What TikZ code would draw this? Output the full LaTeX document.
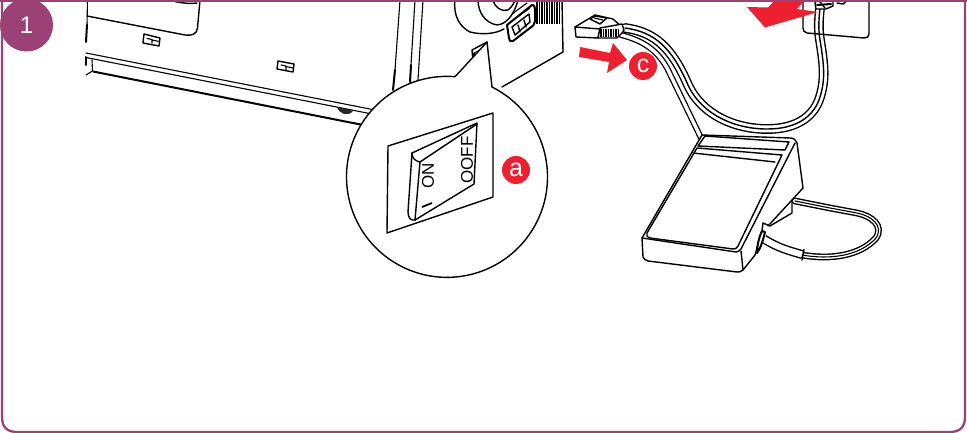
\documentclass[tikz,border=0pt]{standalone}
\usepackage{fontspec}
\setmainfont{Liberation Sans}
\definecolor{plum}{HTML}{9C4173}
\definecolor{alert}{HTML}{EE2030}
\tikzset{
 x=1pt,y=-1pt,
 ink/.style={draw=black,line width=1.4pt,line join=round,line cap=round},
 thin ink/.style={draw=black,line width=1.1pt,line join=round,line cap=round},
 heavy ink/.style={draw=black,line width=2pt,line join=round,line cap=round},
 tag/.style={circle,fill=alert,text=white,minimum size=28pt,inner sep=0pt,font=\fontsize{25}{25}\selectfont},
 labeltext/.style={rotate=90,inner sep=0pt,font=\fontsize{17}{17}\selectfont},
 cable/.style={draw=black,line width=9.8pt,line cap=round},
 cablein/.style={draw=white,line width=7pt,line cap=round},
 lead/.style={draw=black,line width=1.4pt,line cap=round},
}
\def\maincable{(625,28) .. controls (655,32) and (672,48) .. (688,85) .. controls (702,115) and (735,129) .. (767,129) .. controls (795,129) and (812,118) .. (819,100) .. controls (826,80) and (824,65) .. (820,40) .. controls (818,28) and (819,18) .. (820,8)}
\def\lowcable{(621,35) .. controls (645,41) and (660,52) .. (670,74) -- (702,140)}
\def\footcord{(802,255) .. controls (830,260) and (860,256) .. (876,238) .. controls (884,226) and (872,216) .. (857,213) -- (830,208) -- (795,201)}
\begin{document}
\begin{tikzpicture}
\useasboundingbox (0,0) rectangle (967,433);
\fill[white] (0,0) rectangle (967,433);
% machine front
\draw[thin ink] (87.5,0) -- (87,25);
\draw[heavy ink] (87,25) -- (86,42);
\draw[ink] (87,16) -- (185,35) .. controls (192,36) and (197,34) .. (197.5,28) -- (200,0);
\draw[ink] (170,0) .. controls (178,3) and (190,4) .. (197,3);
\draw[ink] (144,34) -- (160,38) -- (159,46) -- (143,43) -- cycle;
\draw[thin ink] (147,38.5) -- (152,39.5) -- (152,43) (152,40) -- (159,41.5);
\draw[ink] (278,61) -- (294,64) -- (293,72) -- (277,69) -- cycle;
\draw[thin ink] (281,65) -- (286,66) -- (286,70) (286,66.5) -- (293,68);
\draw[thin ink] (86,53) -- (375,110);
\draw[thin ink] (86,57.5) -- (372,114);
\draw[thin ink] (92,60) -- (92.5,71) -- (86,75);
\draw[heavy ink] (85.5,57) -- (85.5,65);
\draw[line width=2pt] (93,71.5) -- (363,125);
\fill[black!85] (337,107) .. controls (339,114) and (348,117) .. (353,111) -- cycle;
% machine side
\draw[thin ink] (400,0) -- (395,70);
\draw[heavy ink] (395,70) -- (393,90);
\draw[thin ink] (415,0) -- (411,65);
\draw[heavy ink] (411,65) -- (410,82);
\draw[thin ink] (423,0) -- (418,80);
% hand wheel
\draw[ink] (455,0) .. controls (453,16) and (460,27) .. (470,32) .. controls (482,35) and (495,34) .. (504,29);
\draw[ink] (478,0) .. controls (478,12) and (485,23) .. (497,25) .. controls (508,24) and (515,12) .. (518,0);
\draw[ink] (493,0) .. controls (495,8) and (502,12) .. (508,10) .. controls (512,7) and (514,3) .. (515,0);
% socket
\draw[heavy ink,fill=white] (507,25) -- (532,5) .. controls (535,5) and (535,8) .. (535,12) -- (535,21) .. controls (535,24) and (533,26) .. (530,28) -- (513,41) .. controls (510,42) and (509,40) .. (509,38) -- cycle;
\draw[ink] (512,27) -- (529,14) -- (530,22) -- (515,35) -- cycle;
\draw[ink] (518,25) -- (520,32) (524,20) -- (526,27);
\draw[thin ink] (512,14) -- (527,3) (516,18) -- (530,8);
\foreach \xx in {537,539.5,...,560} \draw[line width=1.3pt] (\xx,0) -- (\xx,24);
\draw[ink] (562,0) -- (563,52);
\draw[ink] (563,52) -- (502,87);
% rocker on body
\draw[ink] (472,50) -- (487,42) -- (487,52) -- (473,62) -- cycle;
\fill[black] (473,53) -- (487,46) -- (487,52) -- (473,62) -- cycle;
\fill[white] (475,53) -- (485,48) -- (485,50) -- (475,56) -- cycle;
% callout
\draw[ink,fill=white] (492,87) arc[start angle=-63.4,end angle=274.6,radius=100.5] -- (487,42) -- cycle;
% switch
\draw[ink] (388,146) -- (493,113) -- (493,197) -- (387,233) -- cycle;
\draw[ink] (412,153) -- (477,123) -- (474,184) -- (415,220);
\draw[ink] (412,153) .. controls (412,158) and (415,161) .. (420,162) -- (477,124);
\draw[ink] (412,153) -- (408,212) .. controls (408,218) and (411,221) .. (415,220);
\draw[ink] (420,162) -- (415,220);
\draw[line width=1.8pt] (422,207) -- (432,203);
\node[labeltext] (on) at (428,176) {ON};
\node[labeltext] (off) at (467,160) {OOFF};
\node[tag] (a) at (516,170) {a};
% cables
\draw[line width=6pt,line cap=round] \lowcable;
\draw[white,line width=3.4pt,line cap=round] \lowcable;
\draw[cable] \maincable;
\draw[cablein] \maincable;
\draw[lead] \maincable;
% plug
\draw[ink,fill=white] (575,27) -- (590,18) -- (595,15) -- (613,19) -- (622,27) -- (600,30) -- (598,38) -- (576,37) -- cycle;
\draw[ink] (575,27) -- (600,29);
\draw[ink,fill=white] (600,28) -- (622,24) -- (624,30) -- (622,33) -- (617,38) -- (598,38) -- cycle;
\foreach \xx in {601,603.5,...,620} \draw[line width=1.2pt] (\xx,29) -- (\xx,37);
\draw[ink] (590,19) -- (595,16) -- (607,18) -- (600,24) -- cycle;
\draw[thin ink] (594,18) -- (603,20);
% wall plate
\draw[ink] (803,0) -- (803,28) .. controls (803,31) and (804,32) .. (807,33) -- (864,38) .. controls (867,38) and (869,37) .. (869,34) -- (869,0);
\draw[ink,fill=white] (815,3) -- (817,0) -- (833,0) -- (833,6) -- (826,9) -- (816,9) -- cycle;
\draw[heavy ink] (817,5) -- (831,4);
\draw[ink] (820,2) -- (825,8);
\draw[ink] (837,3) -- (843,4) -- (848,0);
% big arrow
\fill[alert] (775,0) -- (805,0) -- (797,9) -- (818,12) -- (765,27.5) -- (747,7) -- (768,7.5) -- cycle;
% small arrow c
\fill[alert] (580,47) -- (610,53) -- (613,43) -- (627,60) -- (607,73) -- (609,62) -- (579,57) -- cycle;
\node[tag] (c) at (643,66) {c};
% foot cord
\draw[line width=6.8pt,line cap=round] \footcord;
\draw[white,line width=4pt,line cap=round] \footcord;
\draw[thin ink] \footcord;
\draw[line width=9pt] (764,239) .. controls (778,248) and (790,251) .. (802,254.5);
\draw[white,line width=6.2pt] (763,238.5) .. controls (778,248) and (790,251) .. (802,254.5);
\draw[ink] (804,249.5) -- (802,260);
% pedal
\draw[ink,fill=white] (702,135) -- (790,138) .. controls (794,138) and (796,140) .. (797,143) -- (803,188) -- (792,200) -- (792,213) -- (770,226) -- (763,223) -- (762,231) -- (755,255) -- (743,270) .. controls (741,272) and (739,272) .. (737,272) -- (648,261) .. controls (645,260) and (644,259) .. (643,257) -- (642,238) -- cycle;
\draw[ink] (642,238) -- (736,252) .. controls (738,252) and (739,251) .. (741,249) -- (795,143);
\draw[ink] (705,136) -- (698,146) -- (785,150) -- (789,142) -- cycle;
\draw[ink] (697,148) -- (782,155) -- (738,246) .. controls (736,249) and (735,249) .. (733,249) -- (650,238) .. controls (647,237) and (646,235) .. (647,233) -- cycle;
\draw[ink] (693,153) -- (775,162);
\draw[ink] (743,270) -- (741,251);
\draw[ink] (792,200) -- (768,226);
\draw[heavy ink,fill=white] (762,231) .. controls (759,237) and (757,246) .. (757,253) -- (760,248) .. controls (762,243) and (764,237) .. (765,232) -- cycle;
% frame
\draw[draw=plum,line width=2.3pt] (2,-5) -- (2,417) .. controls (2,427) and (7,432) .. (17,432) -- (950,432) .. controls (960,432) and (965,427) .. (965,417) -- (965,-5);
\draw[draw=plum,line width=2.4pt] (0,0.6) -- (967,0.6);
\node[circle,fill=plum,text=white,minimum size=53pt,inner sep=0pt,font=\fontsize{24}{24}\selectfont] (n) at (26.5,25) {1};
\end{tikzpicture}
\end{document}
